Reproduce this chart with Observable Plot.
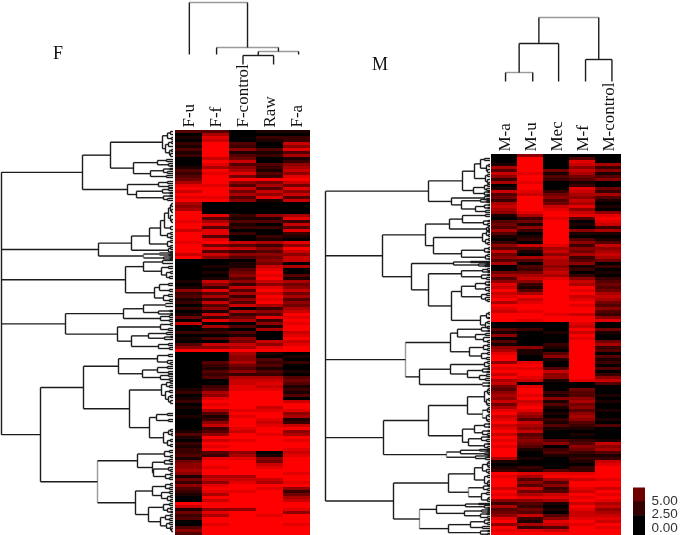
<!DOCTYPE html>
<html>
<head>
<meta charset="utf-8">
<script src="https://cdn.jsdelivr.net/npm/d3@7"></script>
<script src="https://cdn.jsdelivr.net/npm/@observablehq/plot@0.6"></script>
<style>
html,body{margin:0;padding:0;background:#fff}
#fig{position:relative;width:685px;height:535px;overflow:hidden;background:#fff;filter:blur(0.35px)}
#fig svg{position:absolute;background:transparent;max-width:none}
.tag{position:absolute;font:18px "Liberation Serif",serif;color:#111;line-height:18px}
</style>
</head>
<body>
<div id="fig"></div>
<script>
// ---- category labels
const fSamples = ["F-u","F-f","F-control","Raw","F-a"];
const mSamples = ["M-a","M-u","Mec","M-f","M-control"];

// ---- code book: one digit in the strings below = one expression level
const levels = [0,1.3,2.6,3.8,5.1,6.4,7.7,9,10.2,11.5];

// ---- heat map values, top row to bottom row
const fU = "3010"+"21312"+"0001"+"323"+"46"+"8979896"+"56"+"9998997999899979"+"0000000"+"101"+"523120"+"20140700"+"2010359"+"000000000000"+"1201"+"2010010000"+"1310212"+"23145"+"565"+"14253"+"2100"+"97"+"142300353";
const fF = "3687999997986989"+"99899989"+"0000"+"836838838948375"+"0010101"+"752"+"836273"+"51728061"+"2030759"+"000321323002"+"3658"+"9896312572"+"3597989"+"32899"+"899"+"67589"+"8697"+"99"+"586998999";
const fC = "0000"+"32513"+"4735"+"684"+"9"+"5374635"+"0000"+"213120200"+"737253"+"0113453"+"527"+"362537"+"06246030"+"3154769"+"655643526778"+"8999"+"9998989998"+"7998999"+"56899"+"999"+"67899"+"8999"+"99"+"599999999";
const fR = "1021"+"00312"+"0032"+"132"+"9"+"4637581"+"0000"+"513020021"+"625354"+"5478989"+"758"+"979896"+"25382516"+"0007589"+"103231326787"+"8999"+"9978998789"+"9899999"+"01547"+"899"+"97698"+"9999"+"99"+"998999999";
const fA = "1022"+"75836"+"1256"+"758"+"9"+"7485737"+"0000"+"682738210"+"859757"+"7060031"+"645"+"746354"+"67989899"+"7897899"+"010200103431"+"2130"+"7998561279"+"5698998"+"78999"+"998"+"99895"+"2467"+"99"+"859998999";

const mA = "0001"+"637"+"526"+"01"+"73"+"426"+"765"+"10"+"343"+"63"+"102"+"537"+"4536"+"00"+"4635"+"8797896987999"+"00"+"3150"+"3156"+"8995"+"989796"+"7435"+"657468"+"978978979"+"8989996"+"1012"+"9899"+"979895"+"26345"+"895989";
const mU = "5999"+"998"+"998"+"99"+"87"+"999"+"998"+"62"+"415"+"20"+"120"+"731"+"0630"+"32"+"4675"+"2136978998998"+"00"+"2000"+"0051"+"1008"+"989987"+"0899"+"897898"+"653765734"+"5431001"+"0021"+"8635"+"374685"+"32437"+"216289";
const mE = "0000"+"041"+"320"+"00"+"24"+"534"+"789"+"98"+"999"+"99"+"999"+"867"+"5766"+"56"+"7689"+"9999999999899"+"00"+"0100"+"0210"+"3510"+"037551"+"0002"+"151310"+"102131000"+"3502310"+"0003"+"8963"+"523786"+"10103"+"587379";
const mF = "0387"+"576"+"431"+"28"+"76"+"576"+"857"+"83"+"010"+"51"+"035"+"254"+"6235"+"12"+"0257"+"6989789899799"+"87"+"9798"+"9999"+"9999"+"999998"+"0043"+"356453"+"565321010"+"2354212"+"1022"+"8979"+"987989"+"79877"+"898999";
const mC = "0006"+"251"+"350"+"04"+"26"+"310"+"105"+"89"+"872"+"61"+"013"+"756"+"7640"+"20"+"1023"+"4346764353258"+"00"+"4100"+"4623"+"0312"+"030257"+"3000"+"101001"+"001030000"+"1756312"+"7899"+"9989"+"979898"+"67567"+"879899";

// ---- legend
const legendValues = [0,2.5,5];
const legendEdges  = [-1.48,2.2,4.8,7.3];

// ---- dendrograms: [merge height, child, child, ...]; a bare number is a leaf at that row position
const weak = n => (n.weak = true, n);
const leaf = (pos,end) => ({pos,end});

const fRowTree = [172,
  [91,
    [63,
      [11,[6,[3,131,134],[2,137,139]],[8,[5,[2,141,143],146],[4,[2,149,151],[3,153,156]]]],
      [40,[16,[7,159,161],[5,163,[3,165,166]]],[23,[10,[4,168,169],[6,171,173]],[7,175,177]]]],
    [46,[15,[6,181,183],[5,185,187]],[37,[11,[5,188,190],[4,192,193]],[10,[4,195,196],[6,198,200]]]]],
  [75,
    [42,
      [24,[13,[9,[5,[3,[2,203,206],[2,209,212]],[3,215,[2,219,222]]],[3,226,229]],[6,[3,232,234],[3,236,238]]],[6,[3,240,242],[3,245,247]]],
      [5,[3,247,249],[3,251,252]]],
    weak([30,weak([14,[3,252,253],[5,254,255]]),[10,[3,256,257],[4,258,259]]])],
  [48,
    [30,[11,260,263],[12,[5,266,268],[7,[3,271,273],[4,276,278]]]],
    [19,[14,[5,283,285],[4,289,291]],[10,[5,294,296],[4,299,301]]]],
  [108,
    [50,[30,weak([8,303,306]),[15,[4,310,311],[3,313,314]]],[13,[4,315,317],[4,319,321]]],
    [56,[13,[3,323,325],[5,328,330]],[42,[25,[7,332,334],[9,[3,336,337],339]],[15,[5,343,345],[4,347,349]]]]],
  [133,
    [90,
      [55,[16,[5,354,356],[6,360,[3,362,364]]],[31,[16,[6,366,368],[5,371,373]],[13,[5,374,376],[4,378,380]]]],
      [44,
        [12,[7,[3,381,383],[4,385,387]],[8,[4,390,392],[5,[3,395,397],[3,400,403]]]],
        [24,[17,[6,413,415],[5,419,421]],[10,[5,[3,429,431],[2,433,435]],[6,[3,439,441],[3,444,446]]]]]],
    weak([76,
      [36,[9,[4,450,452],[3,455,457]],[21,[9,[4,459,461],[3,463,464]],[20,[5,467,[3,469,471]],[8,[3,473,475],[4,477,479]]]]],
      [38,[21,[8,[3,483,485],[4,487,489]],[12,[4,491,493],[6,[3,495,497],[3,499,501]]]],
          [25,[10,[4,503,505],[6,[3,507,509],[3,511,512]]],[13,[8,[3,514,516],[4,518,520]],[7,[4,522,524],[3,526,[2,528,531]]]]]]])]
];

const mRowTree = [165,
  [62,
    [28,
      [16,[10,[6,158,160],[4,[2,164,166],[3,169,172]]],[5,[3,174,176],[3,179,[2,182,184]]]],
      [17,[6,[3,184,186],[4,188,190]],[6,[3,191,192],[4,194,195]]]],
    [39,[6,196,199],[29,[10,[4,198,200],[4,201,202]],[15,[6,[2,204,205],[3,207,208]],[5,210,212]]]]],
  [108,
    [65,
      [41,[28,[5,214,216],[7,[3,220,221],[3,223,225]]],[4,[2,226,228],[2,229,231]]],
      [57,[8,[4,[2,230,232],[2,234,236]],[5,[2,238,240],[3,242,244]]],[29,[6,[2,247,249],[3,251,252]],[5,[3,254,256],[2,258,259]]]]],
    [79,
      [37,[20,261,262],[12,[5,263,264],[6,265,266]]],
      [62,
        [29,[8,[3,268,270],[3,271,272]],[9,[3,274,275],[4,277,279]]],
        [39,[29,[15,[5,[2,281,282],[3,284,285]],[5,287,[2,289,291]]],[9,[4,293,295],[5,297,[3,299,301]]]],
            [10,[4,[2,312,314],[3,317,318]],[5,[3,321,323],[3,326,328]]]]]]],
  weak([85,
    [40,
      [33,[9,[3,326,328],[3,330,331]],[15,[5,333,335],[7,337,[3,340,342]]]],
      [21,[7,[3,344,346],[3,348,350]],[9,[3,352,354],[4,357,359]]]],
    [71,
      [40,[6,[3,361,363],[2,365,367]],[23,[8,[3,368,369],[4,371,372]],[11,[4,374,376],[5,378,380]]]],
      weak([8,[2,382,383],[3,385,386]])]]),
  [107,
    [62,
      [23,[6,[3,[2,388,390],[2,392,394]],[4,[2,398,400],[3,403,405]]],weak([8,[3,[2,407,409],[2,411,412]],[4,[2,414,416],[3,419,421]]])],
      [28,[16,[6,[2,423,424],[2,426,427]],[8,[3,430,431],[3,433,435]]],[22,[9,[3,436,437],[4,439,441]],[6,[3,443,444],[3,446,448]]]]],
    weak([44,[30,[11,449,[4,450,451]],[6,[2,452,453],454]],[15,[3,455,456],[5,457,459]]])],
  [97,
    [42,
      [16,[8,[3,[2,461,463],[2,465,467]],[4,469,[2,471,473]]],[6,[3,475,477],[3,[2,480,482],[2,484,486]]]],
      weak([22,[7,[2,485,486],[3,488,490]],[9,[4,492,494],[3,[2,497,499],501]]])],
    weak([71,
      [54,[25,[12,503,504],[6,505,[3,507,508]]],[26,[9,[3,509,510],[3,511,512]],[10,[4,513,514],[3,516,518]]]],
      [42,[20,[6,[2,519,520],[3,522,524]],[8,526,528]],[10,[3,530,531],[3,533,534.5]]]])]
];

const fColTree = weak([2, leaf(0.57,54),
  weak([47, leaf(1.55,54),
    weak([51, [55, leaf(2.5,64), leaf(3.6,64)], leaf(4.5,54)])])]);
const mColTree = weak([17,
  [43, weak([72, leaf(0.57,81), leaf(1.6,81)]), leaf(2.58,81)],
  [59, leaf(3.6,81), leaf(4.6,81)]]);

// ---- assemble
const fig = document.getElementById("fig");
const place = (svg,left) => { svg.style.left = left+"px"; svg.style.top = "0px"; fig.appendChild(svg); };
const heatColor = {type:"linear", domain:[0,11.5], range:["#000000","#ff0000"], clamp:true, interpolate:"rgb"};

function segments(tree){
  const out = [];
  (function walk(n){
    if (typeof n === "number") return {pos:n, h:0};
    if (n.pos !== undefined) return {pos:n.pos, h:n.end};
    const [h,...kids] = n;
    const rs = kids.map(walk);
    const a = rs[0].pos, b = rs[rs.length-1].pos;
    out.push({h1:h,h2:h,p1:a,p2:b,weak:!!n.weak,bar:true});
    rs.forEach(r => out.push({h1:h,h2:r.h,p1:r.pos,p2:r.pos,weak:false,bar:false}));
    return {pos:(a+b)/2, h};
  })(tree);
  return out;
}
const shade = d => d.weak ? "#9a9a9a" : "#1c1c1c";

function heatPanel(samples, columns, left, width, top){
  const rows = d3.range(columns[0].length);
  const cells = samples.flatMap((s,i) => rows.map(r => ({sample:s, row:r, value:levels[+columns[i][r]]})));
  place(Plot.plot({
    width, height:535, marginTop:top, marginBottom:0, marginLeft:0, marginRight:0,
    x:{domain:samples, padding:0, axis:null},
    y:{domain:rows, padding:0, axis:null},
    color:heatColor,
    marks:[
      Plot.cell(cells,{x:"sample", y:"row", fill:"value", inset:0, shapeRendering:"crispEdges"}),
      Plot.axisX({anchor:"top", tickRotate:-90, tickSize:0, tickPadding:3, label:null,
                  fontSize:17, fontFamily:"Liberation Serif", fill:"#111"})
    ]
  }), left);
}
function rowDendro(tree, left, width, top){
  place(Plot.plot({
    width, height:535, marginTop:top, marginBottom:0, marginLeft:0, marginRight:0,
    x:{domain:[width,0], axis:null},
    y:{domain:[535,top], axis:null},
    marks:[Plot.link(segments(tree),{x1:"h1",x2:"h2",y1:"p1",y2:"p2",stroke:shade,strokeWidth:1.4,curve:"linear"})]
  }), left);
}
function colDendro(tree, left, width, top){
  place(Plot.plot({
    width, height:top, marginTop:0, marginBottom:0, marginLeft:0, marginRight:0,
    x:{domain:[0,5], axis:null},
    y:{domain:[top,0], axis:null},
    marks:[Plot.link(segments(tree),{x1:"p1",x2:"p2",y1:"h1",y2:"h2",stroke:shade,strokeWidth:1.4,curve:"linear"})]
  }), left);
}

heatPanel(fSamples,[fU,fF,fC,fR,fA],173,139,130);
heatPanel(mSamples,[mA,mU,mE,mF,mC],490,132,154);
rowDendro(fRowTree,0,173,130);
rowDendro(mRowTree,320,170,154);
colDendro(fColTree,173,139,130);
colDendro(mColTree,490,132,154);

// legend
const legendBands = legendValues.map((v,i)=>({value:v,y1:legendEdges[i],y2:legendEdges[i+1]}));
place(Plot.plot({
  width:52, height:535, marginTop:0, marginBottom:0, marginLeft:0, marginRight:40,
  x:{axis:null},
  y:{domain:[-1.48,7.3], range:[535,487.5], axis:null},
  color:heatColor,
  marks:[
    Plot.rect(legendBands,{y1:"y1",y2:"y2",fill:"value"}),
    Plot.axisY(legendValues,{anchor:"right", tickSize:0, tickPadding:6, label:null,
      tickFormat:d=>d.toFixed(2), fontSize:13.5, fontFamily:"Liberation Sans", fill:"#333"})
  ]
}),633);

// panel tags
[["F",53,44],["M",372,55]].forEach(([t,x,y])=>{
  const s=document.createElement("div"); s.className="tag"; s.textContent=t;
  s.style.left=x+"px"; s.style.top=y+"px"; fig.appendChild(s);
});
</script>
</body>
</html>
